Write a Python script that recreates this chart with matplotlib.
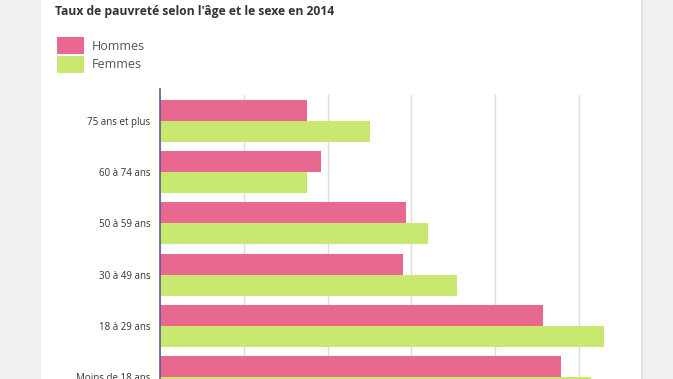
import matplotlib
matplotlib.use("Agg")
from matplotlib import pyplot as plt
from matplotlib.patches import Rectangle

# Data (taux de pauvreté en %)
categories = ["75 ans et plus", "60 à 74 ans", "50 à 59 ans",
              "30 à 49 ans", "18 à 29 ans", "Moins de 18 ans"]
hommes = [8.75, 9.6, 14.7, 14.5, 22.85, 23.9]
femmes = [12.5, 8.75, 16.0, 17.7, 26.5, 25.7]
x_ticks = [0, 5, 10, 15, 20, 25]

pink = "#e8688f"
green = "#c9e870"

plt.rcParams['font.family'] = ['Open Sans', 'DejaVu Sans']

W, H = 673, 379
fig = plt.figure(figsize=(W / 100, H / 100), dpi=100)
fig.patch.set_facecolor("#f1f1f1")

# white panel
fig.patches.append(Rectangle((41 / W, 0), 600 / W, 1, transform=fig.transFigure,
                             facecolor="white", edgecolor="none", zorder=-2))
fig.patches.append(Rectangle((641 / W, 0), 2 / W, 1, transform=fig.transFigure,
                             facecolor="#e4e4e4", edgecolor="none", zorder=-2))

# plot area: left 160px, top 95px, 51.3px per category
left = 160 / W
top = (H - 95) / H
height = 6 * 51.3 / H
xmax = 28
width = xmax * 16.76 / W
ax = fig.add_axes([left, top - height, width, height])
ax.set_facecolor("none")
ax.set_zorder(1)

pos = list(range(len(categories)))
bh = 21 / 51.3
ax.barh([p - bh / 2 for p in pos], hommes, height=bh, color=pink, label="Hommes", zorder=2)
ax.barh([p + bh / 2 for p in pos], femmes, height=bh, color=green, label="Femmes", zorder=2)

ax.set_ylim(len(categories) - 0.5, -0.5)
ax.set_xlim(0, xmax)
ax.set_xticks(x_ticks)
ax.set_xticklabels([])
ax.tick_params(axis="x", length=0)
ax.grid(axis="x", color="#dddddd", linewidth=1, zorder=1)
ax.set_axisbelow(True)
ax.set_yticks(pos)
ax.set_yticklabels(categories, fontsize=7, color="#333333")
ax.tick_params(axis="y", length=0, pad=7)
for s in ["top", "right", "bottom"]:
    ax.spines[s].set_visible(False)
ax.spines["left"].set_color("#5b5b8c")
ax.spines["left"].set_linewidth(1.2)
ax.spines["left"].set_zorder(3)
ax.spines["left"].set_bounds(len(categories) - 0.5, -0.62)

fig.text(55 / W, 1 - 12 / H, "Taux de pauvreté selon l'âge et le sexe en 2014",
         fontsize=8.75, fontweight="bold", color="#333333", va="center", ha="left")

# legend
leg = ax.legend(loc="upper left", bbox_to_anchor=(47 / W, 1 - 27 / H),
                bbox_transform=fig.transFigure, frameon=False, fontsize=9,
                handlelength=2.16, handleheight=1.7, handletextpad=0.64,
                labelspacing=0.15, borderpad=0.3)
for t in leg.get_texts():
    t.set_color("#555555")

fig.savefig("out.png", dpi=100, facecolor=fig.get_facecolor())
